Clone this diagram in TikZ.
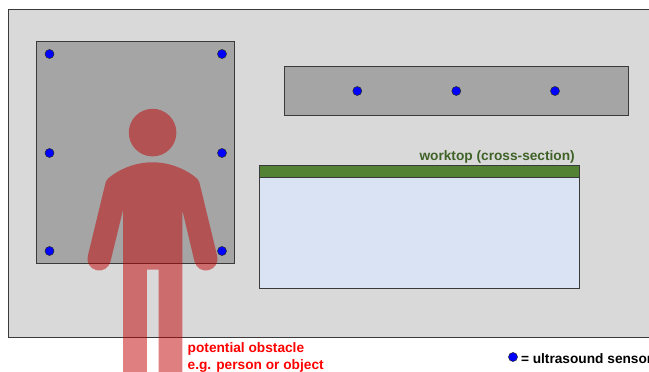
\documentclass[tikz,border=0pt]{standalone}
\usepackage{fontspec}
\setmainfont{Liberation Sans}
\definecolor{panelgrey}{HTML}{A5A5A5}
\definecolor{roomgrey}{HTML}{D9D9D9}
\definecolor{topgreen}{HTML}{548235}
\definecolor{labelgreen}{HTML}{3F6227}
\definecolor{cabblue}{HTML}{DAE3F3}
\definecolor{edgegrey}{HTML}{3A3A3A}
\tikzset{
  boxline/.style={draw=edgegrey,line width=0.9pt},
  sensor/.style={circle,draw=black!85,fill=blue,line width=0.5pt,minimum size=9pt,inner sep=0pt},
  lab/.style={font=\bfseries\fontsize{13.7pt}{16pt}\selectfont,inner sep=0pt},
  figure/.style={fill={rgb,255:red,192;green,0;blue,0},fill opacity=0.5,draw=none}
}
\begin{document}
\begin{tikzpicture}[x=1pt,y=-1pt]
\useasboundingbox (0,0) rectangle (649,372);
\begin{scope}
\clip (0,0) rectangle (649,372);
\fill[white] (0,0) rectangle (649,372);
\path[boxline,fill=roomgrey] (8.4,9.8) rectangle (655,337.9);
\path[boxline,fill=panelgrey] (36.9,41.7) rectangle (234.6,263.8);
\path[boxline,fill=panelgrey] (284,66.8) rectangle (628.6,115.8);
\path[boxline,fill=cabblue] (259,177.8) rectangle (579.9,288.8);
\path[boxline,fill=topgreen] (259,165) rectangle (579.9,177.8);
\foreach \n/\x/\y in {a/49.5/54,b/222/54,c/49.5/153,d/222/153,e/49.5/251,f/222/251,g/357.3/91,h/456.3/91,i/555/91}
  \node[sensor] (s\n) at (\x,\y) {};
\node[sensor] (legend) at (513,357) {};
\node[lab,anchor=west] (legendtext) at (520.8,358.4) {= ultrasound sensor};
\node[lab,anchor=east,text=labelgreen] (worktop) at (575,157) {worktop (cross-section)};
\node[lab,anchor=west,text=red] (obstacle1) at (187.5,349.2) {potential obstacle};
\node[lab,anchor=west,text=red] (obstacle2) at (187.5,365.7) {e.g. person or object};
\fill[figure] (152.6,132.6) circle (23.8pt);
\fill[figure]
  (123,385) -- (123,210)
  -- (110.5,261.5)
  .. controls (108.9,268) and (102.5,271.8) .. (96.3,270.2)
  .. controls (90,268.6) and (86.2,262.2) .. (87.8,256)
  -- (105,185)
  .. controls (105.6,182.5) and (105.8,180.5) .. (108,178.5)
  .. controls (118,170) and (134,162.3) .. (152.6,162.3)
  .. controls (171,162.3) and (187,170) .. (197,178.5)
  .. controls (199.2,180.5) and (199.4,182.5) .. (200,185)
  -- (217.2,256)
  .. controls (218.8,262.2) and (215,268.6) .. (208.7,270.2)
  .. controls (202.5,271.8) and (196.1,268) .. (194.5,261.5)
  -- (182.3,210)
  -- (182.3,385) -- (158.5,385) -- (158.5,269.5) -- (146.8,269.5) -- (146.8,385) -- cycle;
\end{scope}
\end{tikzpicture}
\end{document}
